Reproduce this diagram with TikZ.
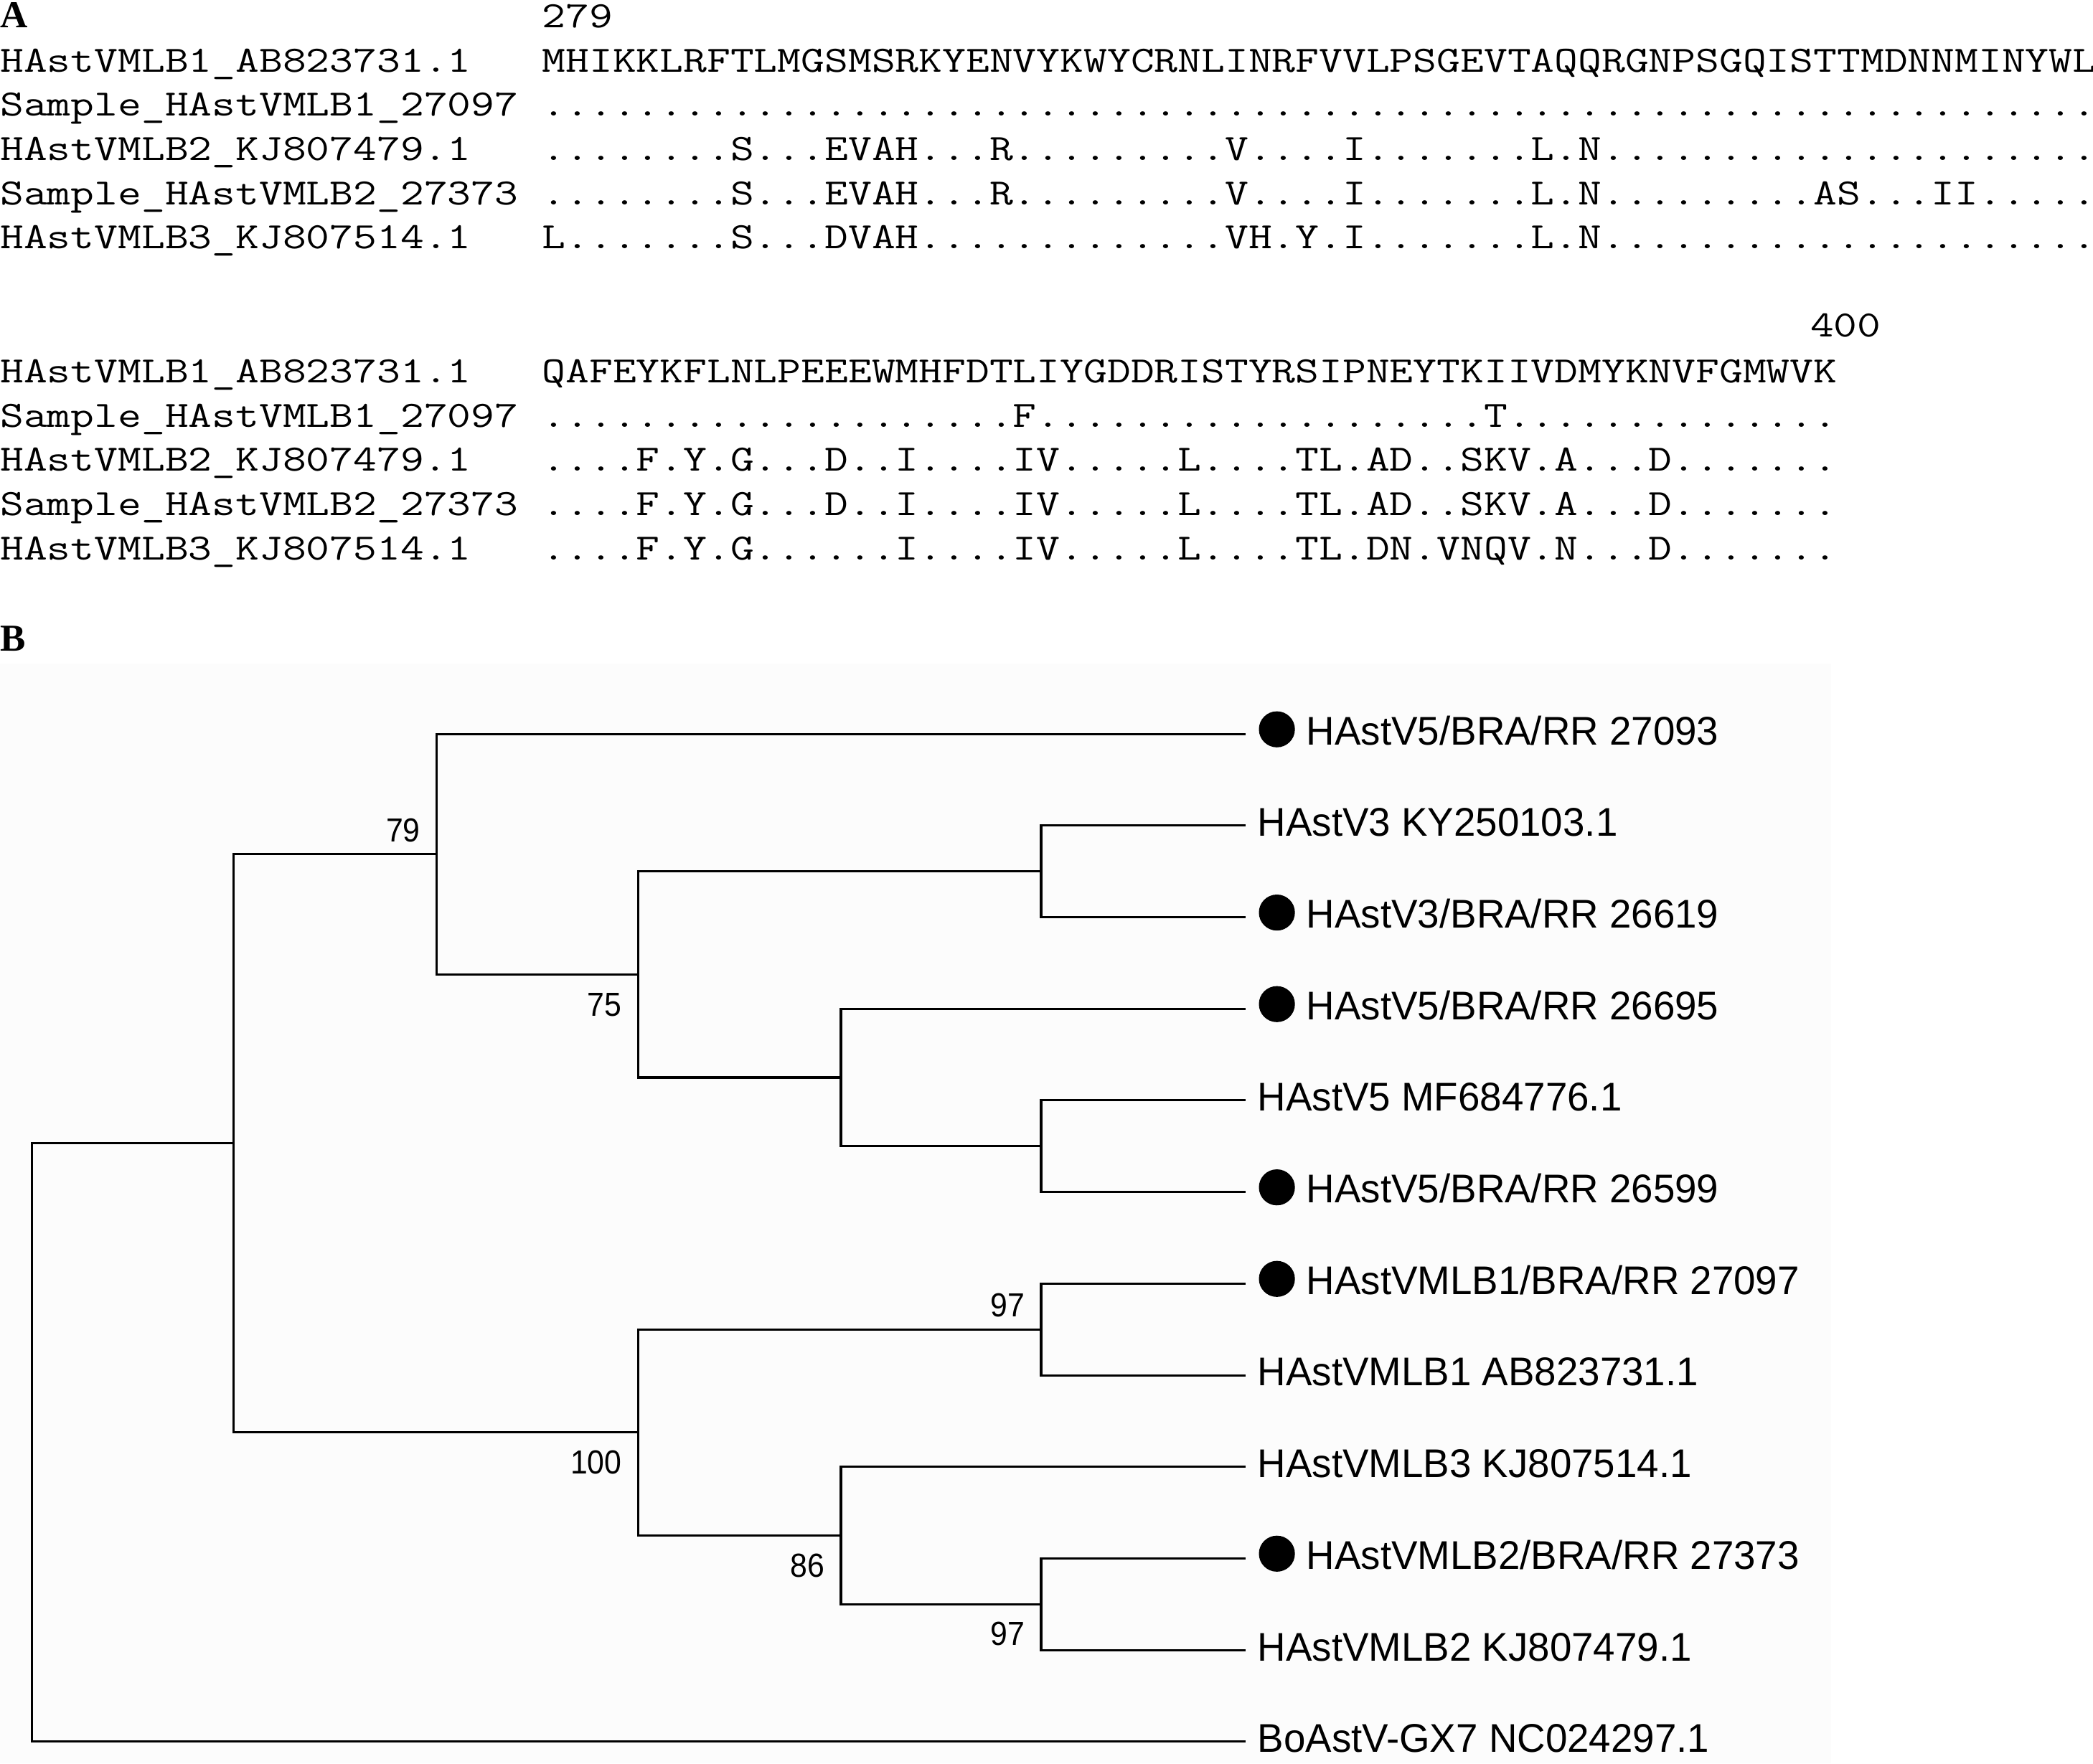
\documentclass[tikz,border=0pt]{standalone}
\usepackage{fontspec}
\usepackage{graphicx}
\setmainfont{Liberation Serif}
\newfontfamily\treefont{Liberation Sans}
\newcount\seqcnt
\newcommand{\seqdots}[1]{\seqcnt=0 \loop\ifnum\seqcnt<#1 .\advance\seqcnt by 1 \repeat}
\newcommand{\seqrow}[1]{\scalebox{1.232}[1]{#1}}
\newcommand{\tlab}[1]{\scalebox{0.98}[1]{#1}}
\newcommand{\blab}[1]{\scalebox{0.92}[1]{#1}}
\definecolor{treebg}{RGB}{252,252,252}
\begin{document}
\begin{tikzpicture}[x=1pt,y=-1pt,
  seq/.style={anchor=base west,inner sep=0pt,font=\fontsize{27.8}{33}\ttfamily},
  panel/.style={anchor=base west,inner sep=0pt,font=\fontsize{28.5}{34}\bfseries},
  leaflab/.style={anchor=base west,inner sep=0pt,font=\fontsize{30}{36}\treefont},
  boot/.style={anchor=base east,inner sep=0pt,font=\fontsize{25}{30}\treefont},
  sampledot/.style={circle,fill=black,inner sep=0pt,minimum size=27pt},
  br/.style={line width=1.7pt,line join=miter}]
\useasboundingbox (0,0) rectangle (1568,1321.3);
\fill[treebg] (0,497) rectangle (1372,1321.3);

% ---------- Panel A ----------
\node[panel] (pA) at (0,20.6) {A};
\node[seq] (p279) at (406,20.6) {\seqrow{279}};
\node[seq] (n11) at (0,53.8)  {\seqrow{HAstVMLB1\_AB823731.1}};
\node[seq] (n12) at (0,86.9)  {\seqrow{Sample\_HAstVMLB1\_27097}};
\node[seq] (n13) at (0,120.1) {\seqrow{HAstVMLB2\_KJ807479.1}};
\node[seq] (n14) at (0,153.2) {\seqrow{Sample\_HAstVMLB2\_27373}};
\node[seq] (n15) at (0,186.4) {\seqrow{HAstVMLB3\_KJ807514.1}};
\node[seq] (s11) at (406,53.8)  {\seqrow{MHIKKLRFTLMGSMSRKYENVYKWYCRNLINRFVVLPSGEVTAQQRGNPSGQISTTMDNNMINYWL}};
\node[seq] (s12) at (406,86.9)  {\seqrow{\seqdots{66}}};
\node[seq] (s13) at (406,120.1) {\seqrow{\seqdots{8}S\seqdots{3}EVAH\seqdots{3}R\seqdots{9}V\seqdots{4}I\seqdots{7}L.N\seqdots{21}}};
\node[seq] (s14) at (406,153.2) {\seqrow{\seqdots{8}S\seqdots{3}EVAH\seqdots{3}R\seqdots{9}V\seqdots{4}I\seqdots{7}L.N\seqdots{9}AS\seqdots{3}II\seqdots{5}}};
\node[seq] (s15) at (406,186.4) {\seqrow{L\seqdots{7}S\seqdots{3}DVAH\seqdots{13}VH.Y.I\seqdots{7}L.N\seqdots{21}}};

\node[seq] (p400) at (1356,252.6) {\seqrow{400}};
\node[seq] (n21) at (0,286.8) {\seqrow{HAstVMLB1\_AB823731.1}};
\node[seq] (n22) at (0,319.9) {\seqrow{Sample\_HAstVMLB1\_27097}};
\node[seq] (n23) at (0,353.1) {\seqrow{HAstVMLB2\_KJ807479.1}};
\node[seq] (n24) at (0,386.2) {\seqrow{Sample\_HAstVMLB2\_27373}};
\node[seq] (n25) at (0,419.4) {\seqrow{HAstVMLB3\_KJ807514.1}};
\node[seq] (s21) at (406,286.8) {\seqrow{QAFEYKFLNLPEEEWMHFDTLIYGDDRISTYRSIPNEYTKIIVDMYKNVFGMWVK}};
\node[seq] (s22) at (406,319.9) {\seqrow{\seqdots{20}F\seqdots{19}T\seqdots{14}}};
\node[seq] (s23) at (406,353.1) {\seqrow{\seqdots{4}F.Y.G\seqdots{3}D..I\seqdots{4}IV\seqdots{5}L\seqdots{4}TL.AD..SKV.A\seqdots{3}D\seqdots{7}}};
\node[seq] (s24) at (406,386.2) {\seqrow{\seqdots{4}F.Y.G\seqdots{3}D..I\seqdots{4}IV\seqdots{5}L\seqdots{4}TL.AD..SKV.A\seqdots{3}D\seqdots{7}}};
\node[seq] (s25) at (406,419.4) {\seqrow{\seqdots{4}F.Y.G\seqdots{6}I\seqdots{4}IV\seqdots{5}L\seqdots{4}TL.DN.VNQV.N\seqdots{3}D\seqdots{7}}};

% ---------- Panel B ----------
\node[panel] (pB) at (0,488) {B};

% leaf tips
\coordinate (L1) at (933,550);
\coordinate (L2) at (933,618.6);
\coordinate (L3) at (933,687.3);
\coordinate (L4) at (933,755.9);
\coordinate (L5) at (933,824.5);
\coordinate (L6) at (933,893.2);
\coordinate (L7) at (933,961.8);
\coordinate (L8) at (933,1030.5);
\coordinate (L9) at (933,1099.1);
\coordinate (L10) at (933,1167.7);
\coordinate (L11) at (933,1236.4);
\coordinate (L12) at (933,1305);

% internal nodes
\coordinate (a) at (780,652.95);
\coordinate (b) at (780,858.85);
\coordinate (c) at (630,807.4);
\coordinate (d) at (478,730.15);
\coordinate (e) at (327,640.1);
\coordinate (f) at (780,996.15);
\coordinate (g) at (780,1202.05);
\coordinate (h) at (630,1150.6);
\coordinate (i) at (478,1073.4);
\coordinate (j) at (175,856.75);
\coordinate (root) at (24,1080.9);

% branches
\draw[br] (L2) -| (a);  \draw[br] (L3) -| (a);
\draw[br] (L5) -| (b);  \draw[br] (L6) -| (b);
\draw[br] (L4) -| (c);  \draw[br] (b) -| (c);
\draw[br] (a) -| (d);   \draw[br] (c) -| (d);
\draw[br] (L1) -| (e);  \draw[br] (d) -| (e);
\draw[br] (L7) -| (f);  \draw[br] (L8) -| (f);
\draw[br] (L10) -| (g); \draw[br] (L11) -| (g);
\draw[br] (L9) -| (h);  \draw[br] (g) -| (h);
\draw[br] (f) -| (i);   \draw[br] (h) -| (i);
\draw[br] (e) -| (j);   \draw[br] (i) -| (j);
\draw[br] (j) -| (root); \draw[br] (L12) -| (root);

% bootstrap values
\node[boot] (b79) at (315,630.6) {\blab{79}};
\node[boot] (b75) at (466,761.2) {\blab{75}};
\node[boot] (b97a) at (768,986.6) {\blab{97}};
\node[boot] (b100) at (466,1104.4) {\blab{100}};
\node[boot] (b86) at (618,1181.6) {\blab{86}};
\node[boot] (b97b) at (768,1233) {\blab{97}};

% sample markers
\node[sampledot] (d1) at (956.6,546.5) {};
\node[sampledot] (d3) at (956.6,683.8) {};
\node[sampledot] (d4) at (956.6,752.4) {};
\node[sampledot] (d6) at (956.6,889.7) {};
\node[sampledot] (d7) at (956.6,958.3) {};
\node[sampledot] (d10) at (956.6,1164.2) {};

% leaf labels
\node[leaflab] (t1) at (978.6,558) {\tlab{HAstV5/BRA/RR 27093}};
\node[leaflab] (t2) at (942,626.6) {\tlab{HAstV3 KY250103.1}};
\node[leaflab] (t3) at (978.6,695.3) {\tlab{HAstV3/BRA/RR 26619}};
\node[leaflab] (t4) at (978.6,763.9) {\tlab{HAstV5/BRA/RR 26695}};
\node[leaflab] (t5) at (942,832.5) {\tlab{HAstV5 MF684776.1}};
\node[leaflab] (t6) at (978.6,901.2) {\tlab{HAstV5/BRA/RR 26599}};
\node[leaflab] (t7) at (978.6,969.8) {\tlab{HAstVMLB1/BRA/RR 27097}};
\node[leaflab] (t8) at (942,1038.5) {\tlab{HAstVMLB1 AB823731.1}};
\node[leaflab] (t9) at (942,1107.1) {\tlab{HAstVMLB3 KJ807514.1}};
\node[leaflab] (t10) at (978.6,1175.7) {\tlab{HAstVMLB2/BRA/RR 27373}};
\node[leaflab] (t11) at (942,1244.4) {\tlab{HAstVMLB2 KJ807479.1}};
\node[leaflab] (t12) at (942,1313) {\tlab{BoAstV-GX7 NC024297.1}};
\end{tikzpicture}
\end{document}
